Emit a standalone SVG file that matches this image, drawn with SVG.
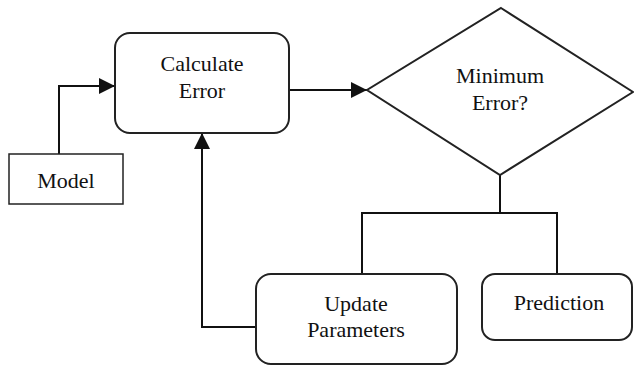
<svg xmlns="http://www.w3.org/2000/svg" width="634" height="367" viewBox="0 0 634 367">
  <style>
    .box { fill: #fff; stroke: #222; stroke-width: 2; }
    .wire { fill: none; stroke: #111; stroke-width: 2; }
    .label { font-family: 'Liberation Serif', 'DejaVu Serif', 'Times New Roman', serif; font-size: 22px; fill: #111; text-anchor: middle; }
  </style>
  <defs>
    <marker id="arrow" viewBox="0 0 16 16" refX="16" refY="8" markerWidth="16" markerHeight="16" markerUnits="userSpaceOnUse" orient="auto">
      <path d="M0,0 L16,8 L0,16 Z" fill="#111"/>
    </marker>
  </defs>

  <rect width="634" height="367" fill="#fff"/>

  <g id="connectors">
    <!-- Model to Calculate Error -->
    <path class="wire" d="M59,154 V86 H115" marker-end="url(#arrow)"/>
    <!-- Calculate Error to decision -->
    <path class="wire" d="M289,90 H367" marker-end="url(#arrow)"/>
    <!-- decision branches -->
    <path class="wire" d="M500,175 V213"/>
    <path class="wire" d="M362,274 V213 H557 V274"/>
    <!-- feedback loop -->
    <path class="wire" d="M256,327 H202 V133" marker-end="url(#arrow)"/>
  </g>

  <g id="model">
    <rect class="box" x="9" y="154" width="114" height="50" style="stroke-width:1.5"/>
    <text class="label" x="66" y="188" font-family="Liberation Serif">Model</text>
  </g>

  <g id="calculate-error">
    <rect class="box" x="115" y="33" width="174" height="100" rx="15"/>
    <text class="label" x="202" y="71">Calculate</text>
    <text class="label" x="202" y="98">Error</text>
  </g>

  <g id="minimum-error">
    <polygon class="box" points="501,8 633,92 500,175 367,90"/>
    <text class="label" x="500" y="83">Minimum</text>
    <text class="label" x="500" y="110">Error?</text>
  </g>

  <g id="update-parameters">
    <rect class="box" x="256" y="274" width="201" height="90" rx="15"/>
    <text class="label" x="356" y="311">Update</text>
    <text class="label" x="356" y="337">Parameters</text>
  </g>

  <g id="prediction">
    <rect class="box" x="482" y="274" width="150" height="66" rx="13"/>
    <text class="label" x="559" y="310">Prediction</text>
  </g>
</svg>
